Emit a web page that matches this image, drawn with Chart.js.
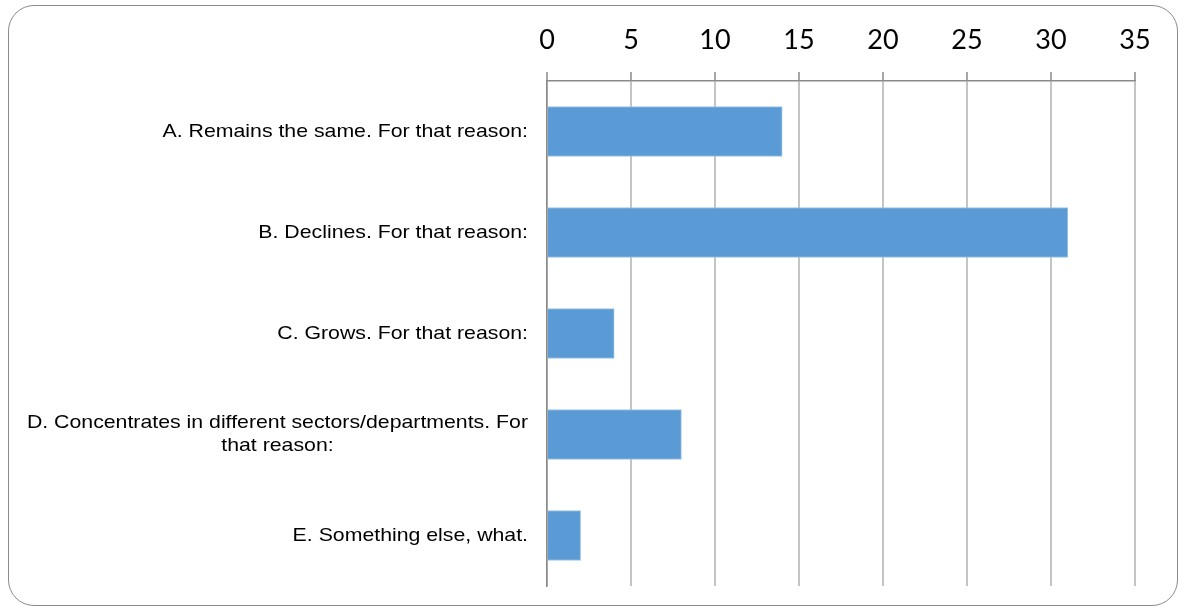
<!DOCTYPE html>
<html>
<head>
<meta charset="utf-8">
<script src="https://cdn.jsdelivr.net/npm/chart.js"></script>
<style>
  html, body { margin: 0; padding: 0; background: #fff; }
  #frame {
    position: absolute; left: 8px; top: 5px; width: 1170px; height: 601px;
    border: 1px solid #8c8c8c; border-radius: 26px; box-sizing: border-box;
  }
  #wrap { position: absolute; left: 0; top: 0; width: 1186px; height: 611px; }
</style>
</head>
<body>
<div id="frame"></div>
<div id="wrap"><canvas id="chart"></canvas></div>
<script>
const categories = [
  ['A. Remains the same. For that reason:'],
  ['B. Declines. For that reason:'],
  ['C. Grows. For that reason:'],
  ['D. Concentrates in different sectors/departments. For', 'that reason:'],
  ['E. Something else, what.']
];
const answers = [14, 31, 4, 8, 2];
const xTicks = [0, 5, 10, 15, 20, 25, 30, 35];

// category labels: right-aligned block, wrapped lines centred within it
const categoryLabels = {
  id: 'categoryLabels',
  afterDraw(chart) {
    const ctx = chart.ctx;
    const y = chart.scales.y;
    const right = chart.chartArea.left - 19;
    const stretch = 1.12;
    ctx.save();
    ctx.font = '19px "Liberation Sans", Arial, sans-serif';
    ctx.fillStyle = '#000';
    ctx.textAlign = 'center';
    ctx.textBaseline = 'middle';
    categories.forEach((lines, i) => {
      const w = Math.max(...lines.map(l => ctx.measureText(l).width)) * stretch;
      const cx = right - w / 2;
      const cy = y.getPixelForValue(i);
      const lh = 23;
      lines.forEach((l, j) => {
        ctx.save();
        ctx.translate(cx, cy + (j - (lines.length - 1) / 2) * lh);
        ctx.scale(stretch, 1);
        ctx.fillText(l, 0, 0);
        ctx.restore();
      });
    });
    ctx.restore();
  }
};

new Chart(document.getElementById('chart'), {
  type: 'bar',
  data: {
    labels: categories,
    datasets: [{
      data: answers,
      backgroundColor: '#5B9BD5',
      borderColor: '#9DC3E6',
      borderWidth: 1,
      borderSkipped: 'start',
      barThickness: 50
    }]
  },
  options: {
    indexAxis: 'y',
    responsive: true,
    maintainAspectRatio: false,
    animation: false,
    layout: { padding: { left: 0, right: 51, top: 0, bottom: 25 } },
    plugins: { legend: { display: false }, tooltip: { enabled: false } },
    scales: {
      x: {
        position: 'top',
        min: 0,
        max: 35,
        afterBuildTicks: s => { s.ticks = xTicks.map(v => ({ value: v })); },
        afterFit: s => { s.height = 81; },
        ticks: {
          color: '#000',
          font: { family: 'Lato', size: 27 },
          padding: 16
        },
        grid: {
          color: '#c4c4c4',
          lineWidth: 2,
          tickColor: '#8a8a8a',
          tickLength: 9,
          tickWidth: 1.5
        },
        border: { display: true, color: '#8a8a8a', width: 1.5 }
      },
      y: {
        afterFit: s => { s.width = 547; },
        ticks: { display: false },
        grid: { display: false },
        border: { display: true, color: '#8a8a8a', width: 1.5 }
      }
    }
  },
  plugins: [categoryLabels]
});
</script>
</body>
</html>
